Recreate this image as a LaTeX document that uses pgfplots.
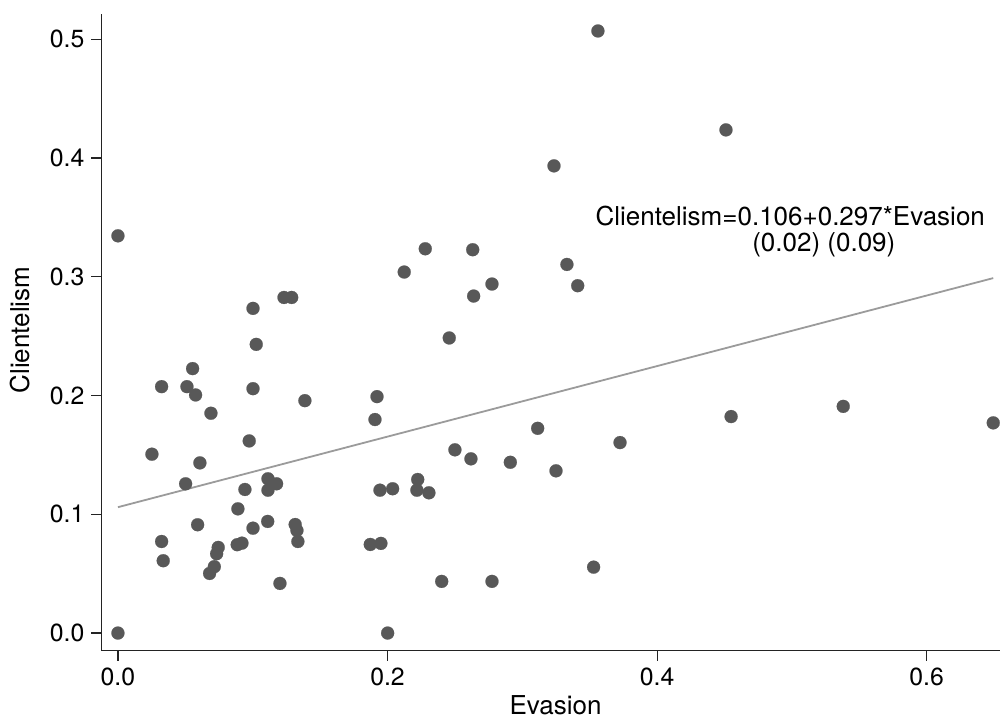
\documentclass[border=0pt]{standalone}
\usepackage{fontspec}
\setmainfont{TeX Gyre Heros}
\usepackage{pgfplots}
\pgfplotsset{compat=1.18}

\definecolor{dotGray}{RGB}{88,88,88}
\definecolor{fitGray}{RGB}{155,155,155}
\definecolor{axisGray}{RGB}{35,35,35}

\begin{document}
\begin{tikzpicture}
\begin{axis}[
    width=449.25pt, height=318.25pt, scale only axis,
    xmin=-0.0122, xmax=0.6544,
    ymin=-0.0147, ymax=0.5213,
    axis x line*=bottom, axis y line*=left,
    axis line style={line width=0.8pt, axisGray},
    tick align=outside, major tick length=5pt,
    tick style={line width=0.6pt, axisGray},
    xtick={0,0.2,0.4,0.6},
    ytick={0,0.1,0.2,0.3,0.4,0.5},
    /pgf/number format/.cd, fixed, fixed zerofill, precision=1, assume math mode=true,
    /pgfplots/.cd,
    tick label style={font=\fontsize{12.4}{14}\selectfont},
    xlabel={Evasion}, ylabel={Clientelism},
    label style={font=\fontsize{13}{15}\selectfont},
    xlabel style={at={(axis description cs:0.5053,-0.1013)}, anchor=base},
    ylabel style={at={(axis description cs:-0.0796,0.5035)}, anchor=base},
    clip=false,
]
% scatter of countries
\addplot[only marks, color=dotGray, mark=*, mark size=3.25pt,
    mark options={fill=dotGray, draw=dotGray, line width=0.1pt}] table {
x y
0.0000 0.3345
0.1232 0.2826
0.1289 0.2826
0.1002 0.2734
0.1026 0.2431
0.0554 0.2227
0.0324 0.2075
0.0512 0.2075
0.0576 0.2005
0.1002 0.2058
0.1387 0.1957
0.0690 0.1851
0.0974 0.1618
0.0252 0.1506
0.0608 0.1433
0.0502 0.1257
0.0942 0.1209
0.1113 0.1299
0.1177 0.1257
0.1113 0.1203
0.0890 0.1046
0.0591 0.0912
0.1111 0.0940
0.1002 0.0883
0.1315 0.0914
0.1328 0.0864
0.1335 0.0771
0.0324 0.0771
0.0336 0.0609
0.0744 0.0721
0.0732 0.0668
0.0715 0.0559
0.0680 0.0502
0.0885 0.0744
0.0920 0.0757
0.1202 0.0418
0.0000 0.0000
0.2280 0.3236
0.2632 0.3228
0.2124 0.3040
0.3331 0.3104
0.3411 0.2925
0.2775 0.2939
0.2639 0.2838
0.2458 0.2485
0.1922 0.1991
0.1907 0.1798
0.3114 0.1724
0.3725 0.1604
0.2500 0.1543
0.2619 0.1467
0.2911 0.1438
0.3250 0.1366
0.2224 0.1293
0.1944 0.1203
0.2038 0.1215
0.2218 0.1203
0.2307 0.1181
0.1872 0.0746
0.1951 0.0755
0.2402 0.0435
0.2775 0.0435
0.3529 0.0555
0.2001 0.0000
0.3561 0.5070
0.4511 0.4237
0.3235 0.3934
0.4549 0.1823
0.5381 0.1909
0.6494 0.1770
};
% linear fit, drawn over the markers
\addplot[fitGray, line width=0.9pt] coordinates {(0,0.106) (0.6494,0.2989)};

\node[anchor=base, font=\fontsize{13}{15}\selectfont, inner sep=0pt]
    at (axis cs:0.4988,0.3430) {Clientelism=0.106+0.297*Evasion};
\node[anchor=base, font=\fontsize{13}{15}\selectfont, inner sep=0pt]
    at (axis cs:0.5237,0.3213) {(0.02) (0.09)};
\end{axis}
\pgfresetboundingbox
\path ([shift={(-50.75pt,-34.25pt)}]current axis.south west)
    rectangle ([shift={(0pt,7pt)}]current axis.north east);
\end{tikzpicture}
\end{document}
